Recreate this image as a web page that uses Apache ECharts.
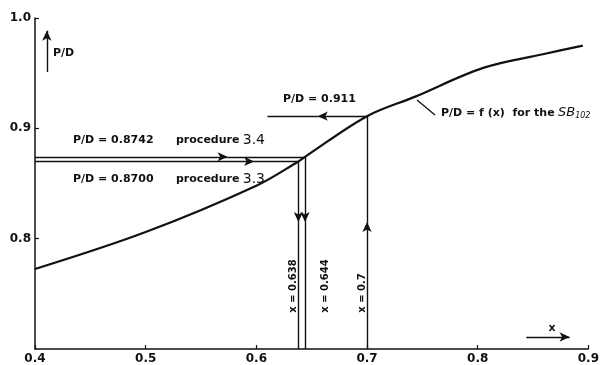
<!DOCTYPE html>
<html>
<head>
<meta charset="utf-8">
<script src="https://cdn.jsdelivr.net/npm/echarts@6/dist/echarts.min.js"></script>
<style>
html,body{margin:0;padding:0;background:#fff;}
#c{width:602px;height:365px;}
</style>
</head>
<body>
<div id="c"></div>
<script>
// ---- data ----
const xCurve  = [0.4, 0.5, 0.6, 0.638, 0.644, 0.7, 0.743, 0.805, 0.86, 0.895];
const pdCurve = [0.7725, 0.806, 0.848, 0.870, 0.8742, 0.911, 0.9285, 0.9548, 0.9674, 0.975];
const procX = [0.644, 0.638];
const procPD = [0.8742, 0.8700];
const procLabels = ['P/D = 0.8742', 'P/D = 0.8700'];
const procNames = ['3.4', '3.3'];
const checkX = 0.7;
const checkPD = 0.911;
const xTicks = [0.4, 0.5, 0.6, 0.7, 0.8, 0.9];
const yTicks = [0.7, 0.8, 0.9, 1.0];

// ---- layout helpers (positions of arrowheads / guide ends) ----
const procArrowX = [0.574, 0.598];
const vArrowY = 0.815;
const checkArrowX = 0.6555;
const checkEndX = 0.61;

function seg(a, b, arrow) {
  return [{coord: a, symbol: 'none'}, {coord: b, symbol: arrow ? 'arrow' : 'none'}];
}
const lines = [];
for (let i = 0; i < procX.length; i++) {
  lines.push(seg([xTicks[0], procPD[i]], [procArrowX[i], procPD[i]], true));
  lines.push(seg([procArrowX[i], procPD[i]], [procX[i], procPD[i]], false));
  lines.push(seg([procX[i], procPD[i]], [procX[i], vArrowY], true));
  lines.push(seg([procX[i], vArrowY], [procX[i], yTicks[0]], false));
}
lines.push(seg([checkX, yTicks[0]], [checkX, vArrowY], true));
lines.push(seg([checkX, vArrowY], [checkX, checkPD], false));
lines.push(seg([checkX, checkPD], [checkArrowX, checkPD], true));
lines.push(seg([checkArrowX, checkPD], [checkEndX, checkPD], false));
// axis-name arrows
lines.push(seg([0.4107, 0.951], [0.4107, 0.9885], true));
lines.push(seg([0.8439, 0.7109], [0.883, 0.7109], true));

const chart = echarts.init(document.getElementById('c'), null, {renderer: 'canvas'});
const FONT = 'DejaVu Sans';
const txt = (x, y, text, extra) => ({
  type: 'text', x: x, y: y,
  style: Object.assign({text: text, fill: '#111', font: 'bold 11px "' + FONT + '"', textVerticalAlign: 'middle'}, extra || {})
});
const richProc = {a: {font: 'bold 11px "' + FONT + '"', fill: '#111'}, b: {font: '14px "' + FONT + '"', fill: '#111'}};

const graphics = [
  txt(53, 53, 'P/D'),
  txt(552, 328, 'x', {textAlign: 'center'}),
  txt(73, 140, procLabels[0]),
  txt(73, 179, procLabels[1]),
  {type: 'text', x: 176, y: 140, style: {rich: richProc, text: '{a|procedure} {b|' + procNames[0] + '}', textVerticalAlign: 'middle'}},
  {type: 'text', x: 176, y: 179, style: {rich: richProc, text: '{a|procedure} {b|' + procNames[1] + '}', textVerticalAlign: 'middle'}},
  txt(283, 99, 'P/D = ' + checkPD),
  {type: 'text', x: 441, y: 113, style: {rich: {a: {font: 'bold 11px "' + FONT + '"', fill: '#111'}, s: {font: 'italic 13px "' + FONT + '"', fill: '#111'}, sub: {font: 'italic 8px "' + FONT + '"', fill: '#111', padding: [6, 0, 0, 0]}}, text: '{a|P/D = f (x)  for the} {s|SB}{sub|102}', textVerticalAlign: 'middle'}},
  {type: 'line', shape: {x1: 417, y1: 100, x2: 435, y2: 115}, style: {stroke: '#111', lineWidth: 1.3}},
  {type: 'text', x: 293, y: 286, rotation: Math.PI / 2, style: {text: 'x = ' + procX[1], fill: '#111', font: 'bold 10px "' + FONT + '"', textAlign: 'center', textVerticalAlign: 'middle'}},
  {type: 'text', x: 325, y: 286, rotation: Math.PI / 2, style: {text: 'x = ' + procX[0], fill: '#111', font: 'bold 10px "' + FONT + '"', textAlign: 'center', textVerticalAlign: 'middle'}},
  {type: 'text', x: 362, y: 293, rotation: Math.PI / 2, style: {text: 'x = ' + checkX, fill: '#111', font: 'bold 10px "' + FONT + '"', textAlign: 'center', textVerticalAlign: 'middle'}}
];

const axisCommon = {
  type: 'value',
  interval: 0.1,
  axisLine: {show: true, lineStyle: {color: '#111', width: 1.5}},
  axisTick: {show: true, inside: true, length: 4, lineStyle: {color: '#111', width: 1.2}},
  splitLine: {show: false},
  axisLabel: {color: '#111', fontFamily: FONT, fontWeight: 'bold', fontSize: 12, formatter: v => v.toFixed(1)}
};

chart.setOption({
  animation: false,
  backgroundColor: '#fff',
  grid: {left: 35, right: 6, top: 18, bottom: 16, containLabel: false},
  xAxis: Object.assign({}, axisCommon, {min: xTicks[0], max: xTicks[xTicks.length - 1],
    axisLabel: Object.assign({}, axisCommon.axisLabel, {margin: 4})}),
  yAxis: Object.assign({}, axisCommon, {min: yTicks[0], max: yTicks[yTicks.length - 1],
    axisLabel: Object.assign({}, axisCommon.axisLabel, {margin: 4, showMinLabel: false})}),
  series: [
    {
      type: 'line',
      data: xCurve.map((x, i) => [x, pdCurve[i]]),
      smooth: 0.35,
      showSymbol: false,
      symbol: 'none',
      lineStyle: {color: '#111', width: 2.2},
      silent: true,
      markLine: {
        silent: true,
        animation: false,
        symbol: ['none', 'none'],
        symbolSize: [7, 10],
        lineStyle: {color: '#111', width: 1.4, type: 'solid'},
        label: {show: false},
        emphasis: {disabled: true},
        data: lines
      }
    }
  ],
  graphic: graphics
});
</script>
</body>
</html>
